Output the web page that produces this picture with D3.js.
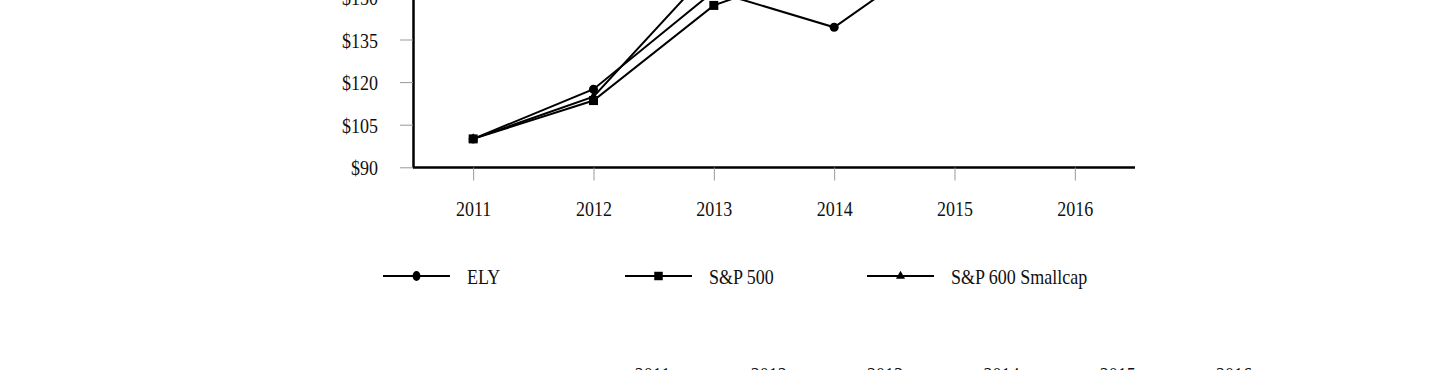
<!DOCTYPE html>
<html>
<head>
<meta charset="utf-8">
<script src="https://cdn.jsdelivr.net/npm/d3@7"></script>
<style>
  html, body { margin: 0; padding: 0; background: #fff; overflow: hidden; }
  svg { display: block; }
  text { font-family: "Liberation Serif", "Times New Roman", serif; fill: #111; }
</style>
</head>
<body>
<svg id="chart" width="1440" height="370"></svg>
<script>
// ---- data ----
const years = ["2011", "2012", "2013", "2014", "2015", "2016"];
const elyValues = [100, 117.5, 152, 139.3, 169, 180];
const sp500Values = [100, 113.5, 147, 162, 165, 184];
const sp600Values = [100, 114.9, 160.8, 170, 166, 208];
const yTickValues = [90, 105, 120, 135, 150];
const seriesNames = ["ELY", "S&P 500", "S&P 600 Smallcap"];
const tableYears = ["2011", "2012", "2013", "2014", "2015", "2016"];

const svg = d3.select("#chart");
const FS = 18, SY = 1.15;

const x = d3.scalePoint().domain(years).range([413, 1135]).padding(0.5);
const y = d3.scaleLinear().domain([90, 210]).range([167.3, 167.3 - 8 * 42.6]);

// ---- axes ----
const yAxis = svg.append("g").attr("transform", "translate(413,0)")
  .call(d3.axisLeft(y).tickValues(yTickValues).tickSize(13).tickSizeOuter(0)
        .tickFormat(d => "$" + d));
yAxis.select(".domain").attr("stroke", "#000").attr("stroke-width", 2.5);
yAxis.selectAll(".tick line").attr("stroke", "#999").attr("stroke-width", 1);
yAxis.selectAll(".tick text")
  .attr("x", null).attr("dy", null)
  .attr("text-anchor", "end")
  .attr("font-size", FS)
  .attr("transform", `translate(-35,${0.37 * FS * SY}) scale(1,${SY})`);

const xAxis = svg.append("g").attr("transform", "translate(0,167.5)")
  .call(d3.axisBottom(x).tickSize(13).tickSizeOuter(0));
xAxis.select(".domain").attr("stroke", "#000").attr("stroke-width", 2.5)
  .attr("d", "M413,0H1135");
xAxis.selectAll(".tick line").attr("stroke", "#999").attr("stroke-width", 1);
xAxis.selectAll(".tick text")
  .attr("y", null).attr("dy", null)
  .attr("font-size", FS)
  .attr("transform", `translate(0,48.5) scale(1,${SY})`);

// ---- lines ----
const series = [
  { name: seriesNames[0], values: elyValues, marker: "circle" },
  { name: seriesNames[1], values: sp500Values, marker: "square" },
  { name: seriesNames[2], values: sp600Values, marker: "triangle" }
];
const line = d3.line().x((d, i) => x(years[i])).y(d => y(d));
svg.append("g").selectAll("path").data(series).join("path")
  .attr("d", s => line(s.values))
  .attr("fill", "none").attr("stroke", "#000").attr("stroke-width", 2)
  .attr("stroke-linejoin", "miter");

const symbolOf = { circle: d3.symbolCircle, square: d3.symbolSquare, triangle: d3.symbolTriangle };
const sizeOf = { circle: 64, square: 81, triangle: 40 };
const drawOrder = [series[0], series[2], series[1]];
drawOrder.forEach(s => {
  svg.append("g").selectAll("path").data(s.values).join("path")
    .attr("transform", (d, i) => `translate(${x(years[i])},${y(d)})`)
    .attr("d", d3.symbol(symbolOf[s.marker], sizeOf[s.marker]))
    .attr("fill", "#000");
});

// ---- legend ----
const legendX = [383, 625, 867];
const legend = svg.append("g").selectAll("g").data(series).join("g")
  .attr("transform", (s, i) => `translate(${legendX[i]},276)`);
legend.append("line").attr("x1", 0).attr("x2", 67).attr("y1", 0).attr("y2", 0)
  .attr("stroke", "#000").attr("stroke-width", 2);
legend.append("path").attr("transform", s => s.marker === "circle" ? "translate(33.5,0) scale(1,1.25)" : "translate(33.5,0)")
  .attr("d", s => d3.symbol(symbolOf[s.marker], s.marker === "triangle" ? 36 : (s.marker === "square" ? 72 : 48))())
  .attr("fill", "#000");
legend.append("text").text(s => s.name)
  .attr("font-size", FS)
  .attr("transform", `translate(84,${0.4 * FS * SY}) scale(1,${SY})`);

// ---- table header (cut off at the bottom) ----
const tx = d3.scalePoint().domain(tableYears).range([652.5, 1234]);
svg.append("g").selectAll("text").data(tableYears).join("text")
  .text(d => d)
  .attr("text-anchor", "middle")
  .attr("font-size", FS)
  .attr("fill", "#555")
  .attr("transform", d => `translate(${tx(d)},382.3) scale(1,${SY})`);
</script>
</body>
</html>
